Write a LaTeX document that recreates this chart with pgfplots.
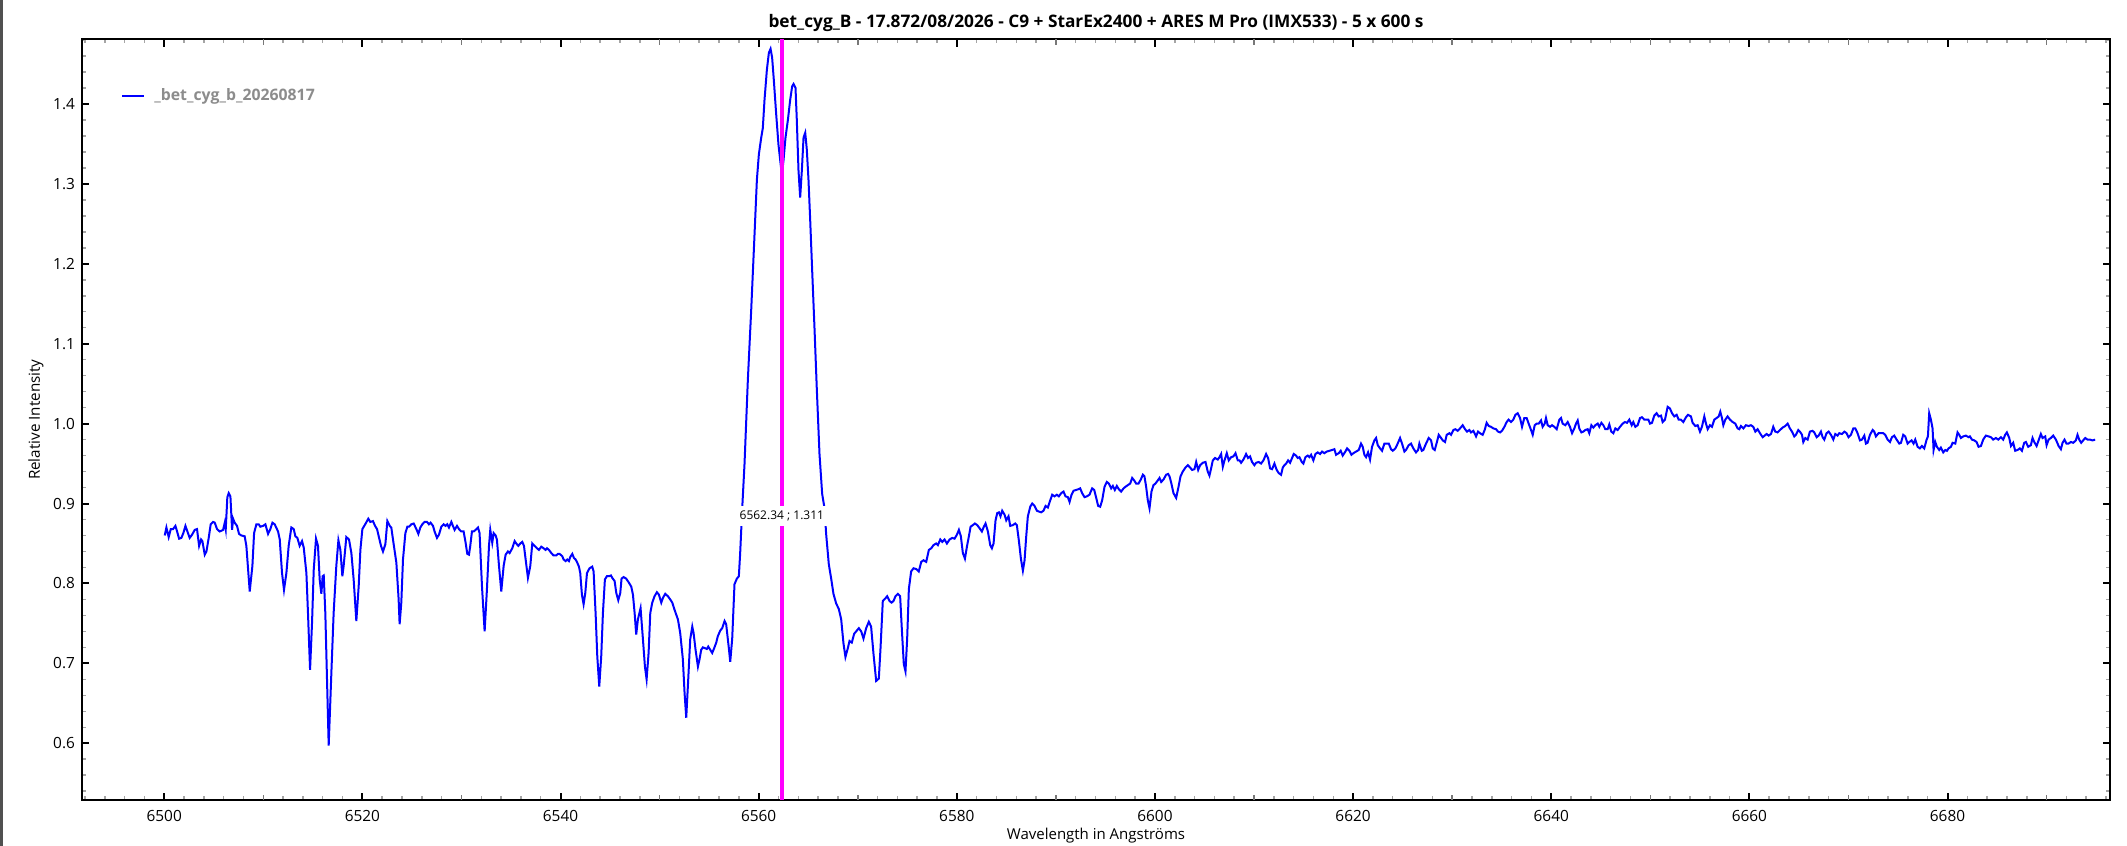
\documentclass[border=0pt]{standalone}
\usepackage{fontspec}
\setmainfont{Open Sans}
\usepackage{pgfplots}
\usepackage{pgfplotstable}
\pgfplotsset{compat=1.18}

\definecolor{specblue}{RGB}{0,0,255}
\definecolor{cursor}{RGB}{255,0,255}
\definecolor{legendgray}{RGB}{140,140,140}
\definecolor{minorgray}{RGB}{165,165,165}
\definecolor{midgray}{RGB}{120,120,120}
\definecolor{edge}{RGB}{80,80,80}

% bet Cyg B spectrum, wavelength (A) vs relative intensity
\pgfplotstableread{
lambda I
6500.05 0.860
6500.22 0.870
6500.45 0.858
6500.66 0.868
6500.89 0.868
6501.13 0.872
6501.30 0.865
6501.50 0.856
6501.73 0.857
6501.93 0.863
6502.14 0.872
6502.34 0.865
6502.57 0.857
6502.81 0.861
6503.08 0.867
6503.31 0.868
6503.52 0.847
6503.72 0.855
6503.85 0.853
6504.09 0.836
6504.26 0.840
6504.49 0.857
6504.69 0.874
6504.93 0.877
6505.10 0.876
6505.33 0.868
6505.60 0.865
6505.94 0.867
6506.11 0.876
6506.21 0.868
6506.37 0.908
6506.51 0.913
6506.68 0.909
6506.85 0.867
6506.95 0.881
6507.11 0.876
6507.35 0.872
6507.55 0.862
6507.79 0.860
6508.12 0.859
6508.29 0.847
6508.63 0.790
6508.90 0.822
6509.07 0.863
6509.30 0.874
6509.54 0.874
6509.70 0.871
6509.97 0.872
6510.21 0.874
6510.48 0.862
6510.71 0.868
6510.92 0.876
6511.15 0.874
6511.49 0.865
6511.66 0.855
6511.89 0.813
6512.09 0.792
6512.33 0.813
6512.56 0.847
6512.83 0.870
6513.07 0.868
6513.24 0.859
6513.44 0.857
6513.67 0.847
6513.91 0.853
6514.08 0.845
6514.35 0.813
6514.51 0.763
6514.72 0.692
6514.92 0.751
6515.09 0.817
6515.32 0.856
6515.52 0.847
6515.69 0.805
6515.86 0.787
6515.99 0.809
6516.10 0.810
6516.26 0.763
6516.60 0.597
6516.87 0.688
6517.10 0.763
6517.37 0.822
6517.58 0.854
6517.78 0.842
6517.98 0.809
6518.11 0.822
6518.38 0.858
6518.65 0.855
6518.89 0.838
6519.12 0.805
6519.39 0.753
6519.63 0.797
6519.80 0.842
6520.00 0.868
6520.33 0.875
6520.60 0.881
6520.80 0.877
6521.07 0.878
6521.28 0.872
6521.48 0.868
6521.65 0.859
6521.88 0.847
6522.08 0.840
6522.32 0.849
6522.52 0.878
6522.76 0.872
6522.92 0.870
6523.09 0.855
6523.43 0.826
6523.66 0.780
6523.76 0.749
6523.93 0.776
6524.10 0.830
6524.34 0.863
6524.54 0.871
6524.71 0.871
6524.94 0.874
6525.18 0.875
6525.45 0.868
6525.65 0.862
6525.85 0.870
6526.05 0.874
6526.28 0.877
6526.52 0.877
6526.72 0.874
6526.89 0.876
6527.13 0.872
6527.29 0.865
6527.53 0.857
6527.73 0.861
6527.97 0.871
6528.20 0.874
6528.40 0.872
6528.57 0.874
6528.74 0.870
6528.98 0.877
6529.14 0.872
6529.31 0.867
6529.55 0.872
6529.75 0.868
6529.98 0.865
6530.22 0.865
6530.42 0.851
6530.59 0.837
6530.76 0.836
6530.89 0.847
6531.06 0.865
6531.23 0.865
6531.43 0.867
6531.67 0.870
6531.83 0.863
6532.07 0.797
6532.34 0.740
6532.57 0.792
6532.78 0.847
6532.91 0.867
6533.01 0.859
6533.11 0.851
6533.25 0.863
6533.45 0.860
6533.58 0.855
6533.79 0.822
6534.02 0.790
6534.26 0.822
6534.46 0.836
6534.69 0.840
6534.86 0.838
6535.13 0.844
6535.37 0.853
6535.53 0.850
6535.74 0.847
6535.94 0.850
6536.14 0.852
6536.31 0.847
6536.48 0.830
6536.71 0.807
6536.95 0.822
6537.15 0.850
6537.38 0.847
6537.62 0.844
6537.82 0.842
6538.06 0.846
6538.29 0.844
6538.49 0.842
6538.63 0.844
6538.83 0.842
6539.07 0.838
6539.30 0.835
6539.57 0.835
6539.74 0.837
6539.91 0.837
6540.18 0.834
6540.31 0.830
6540.51 0.828
6540.68 0.830
6540.85 0.828
6540.98 0.833
6541.19 0.837
6541.35 0.832
6541.52 0.830
6541.69 0.826
6541.86 0.821
6541.99 0.813
6542.16 0.786
6542.33 0.774
6542.50 0.788
6542.67 0.813
6542.93 0.819
6543.20 0.821
6543.34 0.815
6543.54 0.763
6543.71 0.709
6543.91 0.671
6544.11 0.709
6544.28 0.763
6544.48 0.805
6544.68 0.809
6544.89 0.809
6545.09 0.810
6545.22 0.807
6545.46 0.803
6545.63 0.788
6545.83 0.779
6546.03 0.788
6546.16 0.806
6546.37 0.808
6546.63 0.806
6546.90 0.801
6547.14 0.796
6547.31 0.786
6547.48 0.763
6547.64 0.736
6547.81 0.755
6548.08 0.769
6548.32 0.730
6548.52 0.696
6548.69 0.680
6548.89 0.713
6549.06 0.763
6549.26 0.776
6549.49 0.784
6549.73 0.789
6549.93 0.786
6550.17 0.776
6550.34 0.782
6550.57 0.787
6550.84 0.784
6551.07 0.780
6551.28 0.776
6551.51 0.767
6551.68 0.761
6551.85 0.755
6552.08 0.738
6552.35 0.705
6552.52 0.663
6552.69 0.632
6552.89 0.680
6553.09 0.730
6553.30 0.746
6553.43 0.738
6553.63 0.717
6553.87 0.696
6554.03 0.705
6554.20 0.717
6554.37 0.720
6554.57 0.719
6554.77 0.718
6554.91 0.721
6555.11 0.717
6555.31 0.713
6555.51 0.719
6555.72 0.726
6555.88 0.734
6556.12 0.741
6556.32 0.744
6556.56 0.753
6556.72 0.749
6556.99 0.719
6557.13 0.702
6557.33 0.731
6557.56 0.799
6557.80 0.806
6558.00 0.809
6558.13 0.837
6558.34 0.894
6558.57 0.949
6558.91 1.055
6559.25 1.143
6559.58 1.236
6559.82 1.305
6560.02 1.337
6560.26 1.358
6560.42 1.370
6560.59 1.405
6560.83 1.443
6561.03 1.464
6561.20 1.469
6561.36 1.458
6561.53 1.430
6561.77 1.387
6562.00 1.349
6562.17 1.330
6562.34 1.311
6562.51 1.330
6562.71 1.358
6562.95 1.380
6563.18 1.405
6563.38 1.422
6563.52 1.425
6563.72 1.420
6563.85 1.380
6564.02 1.317
6564.19 1.283
6564.36 1.317
6564.53 1.358
6564.70 1.364
6564.86 1.343
6565.03 1.305
6565.20 1.255
6565.40 1.192
6565.64 1.118
6565.87 1.043
6566.14 0.962
6566.41 0.912
6566.65 0.894
6566.81 0.862
6567.08 0.824
6567.32 0.806
6567.55 0.787
6567.82 0.775
6568.09 0.768
6568.33 0.755
6568.56 0.725
6568.76 0.708
6569.00 0.719
6569.17 0.728
6569.40 0.726
6569.64 0.737
6569.84 0.740
6570.11 0.744
6570.35 0.740
6570.58 0.731
6570.85 0.744
6571.12 0.752
6571.35 0.746
6571.59 0.712
6571.86 0.678
6572.13 0.681
6572.30 0.719
6572.53 0.778
6572.77 0.781
6572.97 0.784
6573.21 0.778
6573.41 0.776
6573.61 0.778
6573.81 0.784
6574.05 0.787
6574.28 0.784
6574.45 0.743
6574.65 0.699
6574.82 0.690
6574.99 0.731
6575.16 0.793
6575.39 0.815
6575.63 0.819
6575.90 0.818
6576.16 0.815
6576.41 0.827
6576.64 0.829
6576.91 0.827
6577.18 0.842
6577.42 0.844
6577.65 0.848
6577.92 0.850
6578.09 0.848
6578.33 0.855
6578.53 0.852
6578.76 0.855
6579.00 0.850
6579.27 0.855
6579.54 0.857
6579.77 0.856
6580.01 0.861
6580.21 0.867
6580.41 0.859
6580.61 0.838
6580.82 0.831
6581.02 0.846
6581.22 0.859
6581.39 0.871
6581.62 0.873
6581.82 0.875
6582.06 0.873
6582.30 0.869
6582.53 0.865
6582.73 0.871
6582.90 0.875
6583.14 0.865
6583.37 0.848
6583.54 0.844
6583.71 0.850
6583.91 0.879
6584.08 0.888
6584.25 0.889
6584.41 0.884
6584.58 0.891
6584.82 0.886
6584.99 0.879
6585.22 0.884
6585.39 0.872
6585.66 0.873
6585.89 0.875
6586.06 0.873
6586.26 0.854
6586.47 0.831
6586.67 0.816
6586.84 0.829
6587.00 0.858
6587.17 0.884
6587.41 0.896
6587.61 0.900
6587.85 0.897
6588.08 0.891
6588.28 0.890
6588.52 0.889
6588.75 0.891
6588.96 0.897
6589.19 0.895
6589.43 0.904
6589.63 0.911
6589.86 0.909
6590.10 0.911
6590.30 0.909
6590.54 0.913
6590.77 0.915
6590.97 0.909
6591.21 0.908
6591.38 0.902
6591.58 0.911
6591.78 0.916
6592.05 0.917
6592.28 0.918
6592.45 0.919
6592.65 0.913
6592.89 0.908
6593.13 0.909
6593.39 0.911
6593.66 0.919
6593.87 0.917
6594.07 0.907
6594.27 0.897
6594.47 0.896
6594.67 0.904
6594.91 0.921
6595.14 0.927
6595.35 0.925
6595.58 0.919
6595.75 0.922
6595.95 0.917
6596.15 0.922
6596.35 0.918
6596.59 0.915
6596.83 0.919
6597.03 0.921
6597.26 0.923
6597.50 0.925
6597.70 0.932
6597.90 0.929
6598.10 0.925
6598.34 0.925
6598.57 0.930
6598.78 0.936
6598.94 0.934
6599.11 0.921
6599.28 0.904
6599.45 0.894
6599.65 0.915
6599.85 0.923
6600.05 0.925
6600.29 0.929
6600.46 0.932
6600.63 0.927
6600.86 0.930
6601.13 0.936
6601.33 0.937
6601.47 0.934
6601.64 0.926
6601.87 0.913
6602.14 0.907
6602.38 0.921
6602.58 0.934
6602.81 0.940
6603.08 0.945
6603.32 0.948
6603.55 0.945
6603.75 0.942
6603.99 0.943
6604.16 0.952
6604.36 0.942
6604.56 0.948
6604.83 0.951
6605.10 0.952
6605.33 0.940
6605.50 0.935
6605.67 0.944
6605.84 0.954
6606.07 0.957
6606.34 0.955
6606.51 0.958
6606.68 0.962
6606.85 0.946
6607.02 0.954
6607.25 0.963
6607.45 0.954
6607.69 0.958
6607.92 0.959
6608.13 0.963
6608.36 0.954
6608.53 0.954
6608.69 0.951
6608.93 0.955
6609.20 0.962
6609.40 0.957
6609.60 0.959
6609.80 0.952
6610.04 0.948
6610.21 0.951
6610.48 0.952
6610.71 0.950
6610.95 0.954
6611.22 0.962
6611.42 0.957
6611.62 0.944
6611.82 0.943
6612.06 0.950
6612.29 0.942
6612.50 0.938
6612.73 0.936
6612.90 0.945
6613.07 0.948
6613.24 0.950
6613.44 0.954
6613.64 0.951
6613.84 0.957
6614.01 0.962
6614.24 0.960
6614.41 0.957
6614.58 0.958
6614.82 0.952
6614.98 0.950
6615.19 0.958
6615.42 0.960
6615.59 0.958
6615.76 0.961
6615.99 0.954
6616.20 0.962
6616.43 0.964
6616.67 0.962
6616.87 0.965
6617.10 0.963
6617.34 0.965
6617.61 0.966
6617.88 0.967
6618.11 0.968
6618.28 0.961
6618.55 0.963
6618.75 0.966
6618.95 0.960
6619.22 0.965
6619.39 0.969
6619.63 0.966
6619.83 0.961
6620.03 0.963
6620.30 0.965
6620.57 0.967
6620.80 0.975
6620.97 0.971
6621.14 0.961
6621.31 0.958
6621.51 0.964
6621.71 0.955
6621.91 0.971
6622.15 0.979
6622.32 0.982
6622.49 0.973
6622.72 0.969
6622.92 0.966
6623.16 0.975
6623.39 0.975
6623.60 0.975
6623.83 0.968
6624.00 0.966
6624.27 0.969
6624.50 0.975
6624.74 0.982
6624.94 0.975
6625.18 0.965
6625.34 0.967
6625.61 0.973
6625.85 0.975
6626.08 0.969
6626.35 0.964
6626.56 0.967
6626.69 0.975
6626.93 0.966
6627.09 0.967
6627.36 0.975
6627.63 0.982
6627.87 0.979
6628.04 0.969
6628.24 0.967
6628.44 0.976
6628.64 0.986
6628.88 0.982
6629.05 0.979
6629.28 0.977
6629.45 0.986
6629.72 0.988
6629.89 0.986
6630.12 0.992
6630.32 0.993
6630.56 0.991
6630.79 0.994
6631.06 0.998
6631.30 0.993
6631.50 0.990
6631.73 0.992
6631.90 0.989
6632.14 0.991
6632.41 0.984
6632.61 0.990
6632.81 0.988
6633.08 0.986
6633.28 0.992
6633.48 1.001
6633.69 0.997
6633.92 0.996
6634.16 0.994
6634.43 0.993
6634.63 0.990
6634.83 0.989
6635.03 0.991
6635.27 0.996
6635.50 1.002
6635.70 1.005
6635.94 1.002
6636.17 1.005
6636.38 1.011
6636.61 1.013
6636.85 1.007
6637.05 0.996
6637.28 1.007
6637.52 1.007
6637.72 1.000
6637.96 0.992
6638.13 0.986
6638.33 0.998
6638.53 1.000
6638.73 1.000
6638.97 1.004
6639.13 0.996
6639.34 1.000
6639.47 1.007
6639.64 0.998
6639.88 0.996
6640.08 0.998
6640.31 0.996
6640.55 0.993
6640.82 1.005
6640.99 1.007
6641.15 1.000
6641.42 0.998
6641.66 1.002
6641.89 0.996
6642.10 0.988
6642.33 0.994
6642.50 1.000
6642.67 1.004
6642.83 0.994
6643.04 0.989
6643.24 0.990
6643.44 0.992
6643.68 0.993
6643.84 0.988
6644.05 0.998
6644.25 0.995
6644.45 0.998
6644.69 1.000
6644.85 0.996
6645.06 1.001
6645.26 0.998
6645.46 0.993
6645.69 0.993
6645.86 0.999
6646.06 0.990
6646.27 0.988
6646.47 0.994
6646.70 0.992
6646.94 0.996
6647.21 1.000
6647.44 1.002
6647.65 1.001
6647.88 1.005
6648.12 0.998
6648.28 1.002
6648.49 0.996
6648.72 0.998
6648.96 1.007
6649.16 1.008
6649.39 1.005
6649.56 1.005
6649.80 1.005
6649.97 1.000
6650.17 1.001
6650.40 1.010
6650.64 1.013
6650.84 1.009
6651.08 1.010
6651.24 1.002
6651.48 1.005
6651.75 1.021
6651.98 1.019
6652.19 1.013
6652.42 1.009
6652.66 1.011
6652.86 1.005
6653.09 1.005
6653.33 1.002
6653.60 1.008
6653.80 1.011
6654.10 1.009
6654.27 1.001
6654.54 0.997
6654.78 0.998
6655.01 0.990
6655.21 0.996
6655.45 1.009
6655.62 1.000
6655.79 0.993
6656.02 0.998
6656.22 0.996
6656.46 1.005
6656.69 1.007
6656.90 1.009
6657.06 1.015
6657.23 1.007
6657.37 0.998
6657.57 1.005
6657.80 1.009
6658.04 1.005
6658.31 1.002
6658.58 1.000
6658.81 0.994
6658.98 0.993
6659.15 0.997
6659.39 0.994
6659.65 0.998
6659.92 0.997
6660.16 0.998
6660.39 0.996
6660.60 0.990
6660.83 0.993
6661.07 0.988
6661.34 0.983
6661.54 0.985
6661.74 0.987
6661.94 0.985
6662.18 0.987
6662.41 0.996
6662.61 0.990
6662.85 0.989
6663.09 0.992
6663.35 0.995
6663.62 0.997
6663.86 1.000
6664.09 0.994
6664.30 0.990
6664.53 0.984
6664.70 0.986
6664.94 0.992
6665.10 0.990
6665.31 0.986
6665.44 0.977
6665.64 0.982
6665.88 0.980
6666.11 0.990
6666.38 0.991
6666.55 0.989
6666.79 0.983
6666.99 0.985
6667.22 0.990
6667.39 0.983
6667.56 0.980
6667.79 0.988
6668.00 0.990
6668.23 0.986
6668.47 0.980
6668.67 0.987
6668.90 0.985
6669.07 0.988
6669.34 0.987
6669.58 0.990
6669.81 0.988
6670.01 0.983
6670.25 0.986
6670.49 0.994
6670.69 0.994
6670.92 0.988
6671.16 0.979
6671.36 0.980
6671.60 0.985
6671.76 0.975
6671.93 0.976
6672.17 0.986
6672.44 0.992
6672.60 0.990
6672.77 0.984
6673.04 0.988
6673.28 0.988
6673.51 0.988
6673.71 0.986
6673.95 0.980
6674.19 0.977
6674.39 0.983
6674.62 0.985
6674.86 0.980
6675.13 0.975
6675.30 0.976
6675.53 0.986
6675.73 0.984
6675.97 0.975
6676.14 0.977
6676.37 0.979
6676.57 0.975
6676.74 0.980
6676.98 0.971
6677.21 0.969
6677.41 0.972
6677.65 0.969
6677.89 0.980
6678.02 0.984
6678.15 1.013
6678.32 1.005
6678.49 0.994
6678.59 0.967
6678.76 0.977
6678.93 0.971
6679.16 0.967
6679.33 0.970
6679.57 0.964
6679.77 0.967
6679.94 0.966
6680.10 0.969
6680.34 0.971
6680.51 0.976
6680.78 0.975
6681.01 0.989
6681.18 0.986
6681.35 0.982
6681.59 0.984
6681.85 0.985
6682.12 0.983
6682.26 0.984
6682.46 0.980
6682.70 0.979
6682.93 0.977
6683.13 0.971
6683.37 0.972
6683.60 0.980
6683.87 0.985
6684.14 0.984
6684.38 0.983
6684.61 0.980
6684.88 0.982
6685.12 0.980
6685.39 0.983
6685.62 0.980
6685.82 0.986
6685.99 0.989
6686.23 0.982
6686.40 0.972
6686.63 0.976
6686.83 0.966
6687.07 0.967
6687.30 0.969
6687.51 0.966
6687.74 0.976
6687.91 0.977
6688.14 0.971
6688.41 0.973
6688.58 0.982
6688.75 0.977
6688.99 0.972
6689.19 0.979
6689.42 0.987
6689.59 0.982
6689.86 0.984
6690.00 0.973
6690.20 0.980
6690.43 0.982
6690.67 0.985
6690.94 0.980
6691.21 0.972
6691.44 0.968
6691.61 0.976
6691.81 0.980
6692.01 0.975
6692.21 0.975
6692.45 0.977
6692.69 0.976
6692.95 0.979
6693.12 0.986
6693.29 0.980
6693.49 0.976
6693.69 0.979
6693.90 0.982
6694.13 0.980
6694.37 0.980
6694.64 0.979
6694.90 0.980
}\spectrum

\begin{document}
\begin{tikzpicture}
\useasboundingbox (0,0) rectangle (1063.5pt,423pt);
\fill[edge] (0,0) rectangle (1.5pt,423pt);
\begin{axis}[
    at={(41pt,23pt)}, anchor=south west,
    scale only axis,
    width=1014pt, height=380.25pt,
    xmin=6491.7, xmax=6696.4,
    ymin=0.529, ymax=1.4807,
    xtick={6500,6520,...,6680},
    ytick={0.6,0.7,0.8,0.9,1.0,1.1,1.2,1.3,1.4},
    minor xtick={6492,6494,...,6696},
    minor ytick={0.54,0.56,0.58,0.62,0.64,0.66,0.68,0.72,0.74,0.76,0.78,0.82,0.84,0.86,0.88,0.92,0.94,0.96,0.98,1.02,1.04,1.06,1.08,1.12,1.14,1.16,1.18,1.22,1.24,1.26,1.28,1.32,1.34,1.36,1.38,1.42,1.44,1.46,1.48},
    extra x ticks={6510,6530,...,6690},
    extra x tick labels={},
    extra x tick style={major tick length=2.6pt, every major tick/.append style={midgray, line width=0.8pt}},
    tick align=inside,
    major tick length=3.6pt,
    minor tick length=1.8pt,
    every major tick/.append style={black, line width=1pt},
    every minor tick/.append style={minorgray, line width=0.75pt},
    axis line style={line width=1pt},
    /pgf/number format/assume math mode=true,
    tick label style={font=\fontsize{7.7}{9}\selectfont},
    x tick label style={/pgf/number format/1000 sep={}, yshift=-1.4pt},
    y tick label style={/pgf/number format/.cd, fixed, fixed zerofill, precision=1},
    title={bet\_cyg\_B - 17.872/08/2026 - C9 + StarEx2400 + ARES M Pro (IMX533) - 5 x 600 s},
    every axis title/.style={at={(0.5,1)}, anchor=center, yshift=8.25pt, font=\bfseries\fontsize{8.64}{10}\selectfont},
    xlabel={Wavelength in Angströms},
    ylabel={Relative Intensity},
    every axis x label/.style={at={(0.5,0)}, anchor=center, yshift=-17.8pt, font=\fontsize{7.5}{9}\selectfont},
    every axis y label/.style={at={(0,0.5)}, xshift=-23pt, rotate=90, anchor=center, font=\fontsize{7.6}{9}\selectfont},
    legend style={at={(0,1)}, anchor=west, xshift=16.5pt, yshift=-28.25pt, draw=none, fill=none,
        font=\bfseries\fontsize{7.9}{9}\selectfont, text=legendgray},
    legend image code/.code={\draw[#1] (0pt,0pt) -- (11pt,0pt); \path (13.5pt,0pt);},
]
\addplot[specblue, line width=1pt] table[x=lambda, y=I] {\spectrum};
\addlegendentry{\_bet\_cyg\_b\_20260817}
\addplot[cursor, line width=2.2pt, forget plot] coordinates {(6562.34,0.50) (6562.34,1.50)};
\node[fill=white, inner xsep=1.5pt, inner ysep=2.5pt, font=\fontsize{6}{7}\selectfont]
    at (axis cs:6562.34,0.884) {6562.34 ; 1.311};
\end{axis}
\end{tikzpicture}
\end{document}
